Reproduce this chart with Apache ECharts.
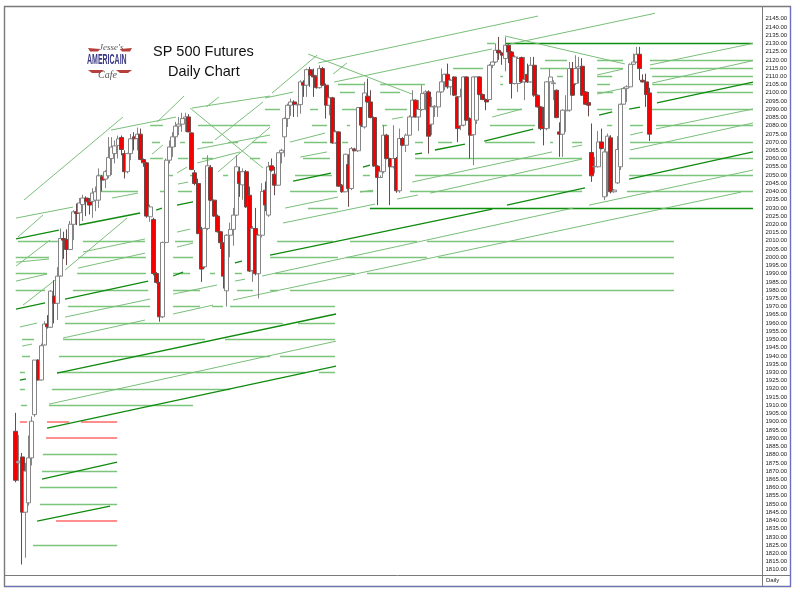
<!DOCTYPE html>
<html><head><meta charset="utf-8">
<style>html,body{margin:0;padding:0;background:#fff}#c{width:800px;height:593px}</style>
<script src="https://cdn.jsdelivr.net/npm/echarts@6/dist/echarts.min.js"></script>
</head><body><div id="c"></div>
<script>
var titleLines = ['SP 500 Futures', 'Daily Chart'];
var periodLabel = 'Daily';
var priceMin = 1805, priceMax = 2150, priceStep = 5;
var slotCount = 234;

// open, close, low, high
var sessions = [
[1894.2,1864.4,1863.2,1905.4],[1875,1876,1864,1892],[1878.6,1845,1813.2,1881],[1845,1870,1817.3,1875],[1850.7,1878,1849,1891.6],
[1878,1900.3,1873.4,1903.3],[1904.3,1937.5,1903,1937.5],[1937.5,1925.4,1925,1938],[1925.4,1946.2,1925,1947.5],[1946.6,1959.4,1947,1961],
[1959.4,1957.7,1956.7,1964.8],[1957.4,1979.4,1957.7,1980],[1976.4,1972,1959.8,1986],[1972,1988.5,1961.8,1994],[1988.5,2011.4,1989,2017.5],
[2011.4,2010.4,1999,2015.5],[2010.8,2004.7,1995.2,2017],[2004.7,2020.1,2004.3,2022],[2020,2027.6,2010.4,2028.6],[2027.6,2026.6,2019.5,2032.7],
[2027,2033,2020,2036],[2032,2036,2022,2038],[2036,2033.7,2025,2037],[2033.7,2031.7,2026,2036],[2034,2039,2024,2042],
[2034.7,2039.8,2028,2043],[2034.7,2049.5,2030,2054],[2048.9,2046.9,2040,2050],[2047.5,2052,2042,2053],[2049.5,2060.6,2048,2073],
[2060,2067,2050,2073],[2063,2067.7,2057,2071],[2068,2072,2060,2074],[2072.8,2065.5,2062,2074],[2063,2052,2047.9,2065],
[2052,2063,2051,2063.5],[2063,2072,2059,2075],[2073.2,2072,2065,2076],[2072.2,2074.8,2065,2078.8],[2074.8,2059.4,2059,2078.2],
[2059.4,2057.4,2055,2060],[2057.4,2025,2024,2058],[2024.6,2030.6,2021.5,2032],[2023,1990.1,1989,2024],[1990.1,1984.7,1984,1991],
[1984.7,1963.8,1960.8,1985],[1963.8,2009,1963,2009.5],[2009,2059,2008.5,2060],[2059,2067,2057,2071],[2067,2073.2,2061,2076],
[2073.2,2079.7,2067,2082.3],[2079.7,2080.9,2074.2,2085.3],[2080.9,2084.3,2076.2,2087.8],[2084.3,2085.3,2076.2,2087.8],[2085.3,2076.2,2076,2087],
[2075.6,2053.3,2053,2076],[2051.3,2044.8,2043.8,2053],[2044.8,2014.4,2014,2047.8],[2016.9,1992.8,1985,2018.5],[1994.2,2017.5,1993.2,2018],
[2017.5,2055.6,2016.5,2062],[2054.6,2034.7,2034,2056],[2034.7,2025,2024.5,2035],[2025,2015.5,2015,2026],[2015.5,2008.8,2005,2016],
[2008.8,1988.5,1981,2009],[1979.6,2013.4,1970,2014],[2013.4,2016.9,2000,2021],[2016.9,2025.6,2007,2030],[2025.6,2055,2025,2062],
[2052,2044.8,2036.7,2055],[2044,2052,2035,2054],[2052,2030.6,2030,2053],[2037.7,1991.6,1991,2043],[1992,2017.5,1985,2019],
[2017.5,1990,1989,2030],[1990,2013.4,1975,2014],[2013.4,2040,2012,2045],[2040.8,2031.7,2028,2046],[2025.6,2055,2024.5,2058],
[2055.6,2052.9,2052,2060],[2050.5,2043.8,2037.7,2055],[2043.8,2063.5,2043.5,2064],[2063.5,2065,2057,2066],[2073.2,2084.3,2061,2085],
[2084.3,2092.4,2079.2,2093.4],[2092.4,2094.4,2086,2096.5],[2094.4,2092.8,2085.3,2095.4],[2092.6,2092.8,2085.3,2093.4],[2092.8,2106.6,2087.3,2107.6],
[2106.2,2104.6,2097.5,2107.6],[2104.6,2114,2097.5,2114.7],[2114,2110.6,2103.6,2115.7],[2110.6,2109.6,2097.5,2114.7],[2109.6,2103.1,2102.5,2110.6],
[2103.1,2114.7,2102.5,2116.7],[2114.7,2104.6,2104,2115.7],[2104.6,2092.4,2084.3,2105.6],[2092.4,2096.9,2086.3,2097.5],[2096.9,2069.5,2069,2097.5],
[2069.5,2076.2,2069,2077.2],[2076.2,2043.2,2043,2076.6],[2043.8,2039.8,2039.2,2044.5],[2039.8,2062.6,2039.5,2063],[2056.4,2041.8,2030.7,2062.6],
[2041.8,2066,2040.8,2067],[2065.7,2064.7,2064.5,2066.5],[2064.7,2091,2064,2091.4],[2091,2080.3,2079.2,2091.4],[2079.2,2099.9,2078.2,2106.6],
[2097.9,2094.4,2094,2108.6],[2094.4,2084.9,2084.5,2101.5],[2084.9,2055.4,2055,2085.5],[2055.4,2048.5,2031.7,2056],[2048.5,2052,2049.8,2052.6],
[2052,2074.2,2051,2080.3],[2074.2,2060,2059.5,2075],[2060,2055,2031.7,2060.5],[2055,2060,2054,2080.3],[2060,2040.4,2039.2,2061],
[2040.4,2072.2,2039.2,2078.2],[2072.2,2068.1,2067.5,2073],[2068.1,2074.2,2064,2075.2],[2074.2,2085.3,2074,2086.3],[2085.3,2095.5,2085,2101.5],
[2095.5,2085.3,2084.9,2096],[2085.3,2089.8,2076.8,2095.5],[2089.8,2099.5,2089,2104.6],[2099.5,2100.5,2089.4,2101.5],[2100.5,2073.6,2063,2101.5],
[2080.9,2091.4,2074.2,2097.5],[2091.4,2091.8,2085.3,2092.5],[2091.4,2100.5,2085.3,2101],[2100.5,2106.6,2100,2114.7],[2106.6,2111.2,2101.5,2111.6],
[2111.2,2103.6,2102.5,2117.7],[2103.6,2107.6,2098.5,2108.6],[2109.6,2098.5,2098,2110],[2097.5,2078.2,2070,2098],[2080,2097.5,2077.2,2102.5],
[2080.3,2109.6,2079.5,2110],[2109.6,2083.3,2083,2110],[2084.3,2074.2,2060,2085],[2074.5,2109.6,2056,2110],[2083.3,2109.6,2081,2110],
[2109.6,2098.9,2098.5,2110],[2098.9,2095.9,2095.5,2099.5],[2095.9,2094.4,2089.4,2096.5],[2095.9,2116.7,2095.5,2117.5],[2116.7,2118.7,2115,2119],
[2118.7,2125.8,2118,2129.9],[2125.8,2124.2,2120,2133.9],[2124.2,2122.8,2117,2125],[2120.8,2128.9,2113,2133.9],[2128.9,2124.8,2118,2129.5],
[2124.8,2105.6,2096.5,2125.4],[2105.6,2121.8,2105,2122.8],[2105.6,2120.8,2100.5,2122],[2121.4,2106.6,2106,2122],[2106.6,2108,2095.5,2121.8],
[2111.2,2106.6,2106,2117.7],[2106.6,2116.7,2106,2121.8],[2116.7,2098.5,2097.5,2121.8],[2098.5,2091.4,2091,2099],[2091.4,2078.2,2077.2,2092],
[2079.7,2078.2,2068,2091.4],[2078.2,2106.6,2077.2,2107],[2106.6,2109.6,2078.2,2114.7],[2105.5,2106,2095.5,2107.6],[2101.5,2084.9,2084.5,2102],
[2076.2,2074.8,2061,2082],[2074.8,2089.4,2061,2090],[2089,2089.4,2076.2,2098.5],[2089.4,2114.7,2088.4,2118.7],[2114.7,2098.5,2098,2118.7],
[2105.6,2114.7,2104.6,2122.8],[2114.7,2115.7,2105.6,2121.8],[2116.1,2098.5,2098,2121],[2100.5,2093,2092.5,2101],[2094,2092.4,2085.7,2100.5],
[2063.7,2049.5,2045.8,2081.3],[2055,2055.2,2051,2061],[2055,2070.1,2054.5,2076.8],[2070.1,2066.1,2065.5,2078.2],[2036.7,2064,2034.7,2066],
[2064,2073.6,2037,2075.2],[2072.6,2039.8,2038.8,2074.2],[2039.8,2040.8,2039.2,2041.5],[2045.2,2065.5,2044.5,2073.6],[2055,2093,2053,2093.5],
[2093,2102.5,2093.3,2103.5],[2102.5,2103.6,2094.4,2104.6],[2103.6,2117.3,2103.2,2117.8],[2117.3,2118.7,2116.8,2123.8],[2118.7,2123.4,2118.2,2127.9],
[2123.4,2114.7,2107.6,2127.9],[2107.6,2106.6,2106.2,2111.2],[2106.6,2098.9,2091.4,2111.6],[2099.9,2074.8,2070.7,2103]
];

// price level, then start and end of each stretch, counted in sessions
var lightLevels = [
[2130,147.3,149.8],
[2120,165.4,172.3,181.7,189.8,198.2,230.4],
[2115,136.7,146,163.9,172.3,181.7,189.8,198.2,230.4],
[2110,151.4,152.3,169.2,171,181.7,186.4,198.9,230.4],
[2105,100.7,109.2,113.9,127.9,151.4,152.3,181.7,185.7,198.9,230.4],
[2100,101.3,106,113.9,120.1,181.7,186.7,200.4,230.4],
[2090,77.9,82.6,92,94.5,102,106.7,115.4,122.3,150.4,158.2,181.7,186.4,197.6,230.4],
[2080,42,46,57,79.5,92.6,97.3,103.5,104.5,114.5,116,148.2,162.3,184.8,186.4,192,196,200.1,230.4],
[2070,42.6,45.1,51.4,52.9,58.2,61.7,66.4,69.5,73.9,78.5,90.1,97.3,102,103.9,124.8,127.3,132,136.4,146.7,162.3,167,167.9,173.9,177,192,230.4],
[2060,42,46,50.7,53.9,58.2,61.7,73.2,76.4,89.8,98.2,124.8,177,191.7,230.4],
[2050,25.4,27.6,47.6,49.2,54.5,56,64.8,66.4,87.3,98.8,108.5,110.7,124.8,177,191.7,230.4],
[2040,25.1,38.2,45.1,46.7,50.7,55.1,85.7,100.4,107.6,111.7,123.2,177,191,230.4],
[2030,91.3,100.7],
[2010,0.7,13.2,21,40.4,49.8,55.4,81.7,99.2,104.5,125.4,128.5,205.7],
[2000,0,10.4,19.5,40.7,49.2,55.4,79.5,100.7,103.2,128.5,132,205.7],
[1990,0,9.8,19.2,40.7,49.2,54.5,60.7,62.3,68.5,70.7,81,106,109.8,205.7],
[1980,0,9.2,17.9,41.4,49.2,57.6,69.2,74.2,79.5,82,85.7,205.7],
[1970,16.3,42,49.2,57.6,61.4,64.8,67,99.8],
[1960,15.4,83.5,88.2,99.8],
[1950,2,5.7,14.8,59.2,65.4,99.8],
[1940,2,4.5,13.5,79.5,82.6,99.8],
[1930,1.3,2.9,12.9,90.4,94.8,99.8],
[1920,1.3,2.9,11.3,67],
[1910,1.7,3.5,10.4,55.4],
[1880,8.5,31.7],[1870,8.2,31.7],[1860,7.6,31.7],[1850,7.6,31.7],[1825,5.4,31.7]
];
var strongLevels = [[2130,153,230.4],[2030,110.7,230.4]];
var redLevels = [[1900,1.3,3.5,9.8,16.7,20.4,31.7],[1890,9.5,31.7],[1840,12.6,31.7]];

// start session, start price, end session, end price
var thinTrends = [
[154.5,2129.6,199.8,2148.3],[94.5,2118.1,163.2,2146.6],[99.5,2106.5,148.8,2126.6],[91.4,2123.5,123.8,2099.2],[80.1,2099.8,94.2,2122.9],
[99.2,2111.4,103.5,2118.1],[77.9,2096.8,86.7,2100.4],[152.9,2134.5,190.4,2117.5],[198.2,2116.9,230.4,2130],[198.9,2105.9,230.4,2119.5],
[200.1,2078,230.4,2090.1],[192,2065.2,230.4,2081.6],[179.2,2031.7,230.4,2053],[49.2,1965.5,61.7,1970.9],[67.9,1974,226.7,2039.6],
[49.2,1977.6,62.9,1983.1],[77,1988.6,174.2,2029.9],[83.5,2020.8,112.3,2032.3],[84.2,2029.9,100.7,2036.6],[123.9,2045.7,167.6,2064],
[119.2,2035.4,125.7,2037.8],[129.5,2039,177,2059.7],[181.7,2099.2,190.4,2102.9],[181.7,2110.8,189.8,2114.4],[117.6,2084,121,2085.2],
[107.6,2039.6,111.7,2040.8],[148.9,2085.2,158.2,2090.1],[85.7,2070,96.7,2075.5],[88.9,2060.9,97.3,2064],[173.9,2067,177,2068.2],
[192,2074.3,196,2076.1],[2.6,2034.8,33.5,2085.2],[29.8,2077.3,50.1,2085.2],[44.2,2082.2,52.6,2098],[59.5,2091.3,63.5,2097.4],
[55.1,2090.7,79.5,2098],[54.5,2090.7,77.3,2054.2],[62.3,2071.3,77.3,2094.4],[63.2,2051.8,79.5,2079.1],[56.7,2065.8,79.5,2074.3],
[56.7,2057.3,70.1,2064],[42.6,2062.7,46,2068.2],[50.7,2044.5,53.9,2045.7],[50.4,2051.2,53.5,2054.8],[30.1,2036,38.2,2039],
[0.1,2023.8,17.9,2030.5],[0.7,2012.3,8.5,2025.6],[0.1,1994.6,10.7,2010.4],[2.3,1970.9,12.3,1986.1],[15.4,1992.2,34.8,2023.8],
[21,2003.2,40.4,2011.1],[19.5,1993.4,40.4,2002.5],[0.1,1997,10.4,1998.9],[0.1,1985.5,9.8,1989.8],[15.4,1963.6,42,1974.6],
[14.8,1950.9,40.4,1961.8],[1.3,1957.6,6.7,1960],[2,1946,5.1,1947.2],[10.4,1910.7,100.1,1949],[50.4,2015.3,54.5,2017.1],
[50.4,2006.2,55.4,2008.6],[68.5,1985.5,71.7,1986.7]
];
var boldTrends = [
[0.1,1968.5,9.2,1972.2],[15.4,1974.6,41.4,1985.5],[49.2,1988.6,52.3,1991],[68.5,1996.5,70.7,1997.7],[79.5,2001.3,148.9,2029.3],
[153.5,2031.7,177.9,2042.1],[191.7,2047.5,230.4,2064],[0.1,2011.1,13.5,2016.5],[19.8,2019.6,38.9,2026.9],[43.9,2028.7,45.7,2029.9],
[50.4,2031.7,55.4,2033.6],[86.7,2046.3,98.5,2051.2],[108.5,2054.8,110.7,2056],[124.8,2062.7,127,2063.3],[131,2065.2,140.4,2068.8],
[146.4,2070.6,161.7,2077.9],[182.3,2086.4,186.4,2088.3],[191.7,2090.1,195.1,2091.3],[200.4,2093.8,230.4,2106.5],[12.9,1929.6,100.1,1965.5],
[9.8,1896.1,100.1,1933.8],[8.2,1865.1,31.7,1875.5],[6.7,1839.6,29.5,1848.7],[1.3,1925.3,3.2,1926]
];

function levelSegs(rows){
  var out=[];
  rows.forEach(function(r){ for(var k=1;k<r.length;k+=2) out.push({coords:[[r[k],r[0]],[r[k+1],r[0]]]}); });
  return out;
}
function trendSegs(rows){
  return rows.map(function(r){ return {coords:[[r[0],r[1]],[r[2],r[3]]]}; });
}
function linesSeries(name,data,color,width,z){
  return {name:name,type:'lines',coordinateSystem:'cartesian2d',xAxisIndex:1,yAxisIndex:0,silent:true,z:z,
    polyline:false,effect:{show:false},lineStyle:{color:color,width:width,opacity:1,curveness:0},data:data};
}
var slots=[]; for(var s=0;s<=slotCount;s++) slots.push(String(s));

var logoBlue='#3b3a86', frame='#7a7a7a', edge='#6a6fc0';
var chart=echarts.init(document.getElementById('c'),null,{renderer:'canvas'});
chart.setOption({
  animation:false,
  backgroundColor:'#fff',
  title:[
    {text:titleLines[0],left:153,top:44,padding:0,textStyle:{fontFamily:'Liberation Sans',fontSize:14.5,fontWeight:'normal',color:'#111'}},
    {text:titleLines[1],left:168,top:64,padding:0,textStyle:{fontFamily:'Liberation Sans',fontSize:14.5,fontWeight:'normal',color:'#111'}}
  ],
  grid:{left:15.7,width:748.8,top:10.5,height:567.5,containLabel:false},
  xAxis:[
    {type:'category',data:slots,boundaryGap:false,axisLine:{show:false},axisTick:{show:false},axisLabel:{show:false},splitLine:{show:false}},
    {type:'value',min:0,max:slotCount,show:false,splitLine:{show:false}}
  ],
  yAxis:{type:'value',position:'right',min:priceMin,max:priceMax,interval:priceStep,
    axisLine:{show:false},axisTick:{show:false},splitLine:{show:false},
    axisLabel:{margin:1,fontSize:6,fontFamily:'Liberation Sans',color:'#222',showMinLabel:false,showMaxLabel:false,
      formatter:function(v){return v.toFixed(2);}}},
  series:[
    linesSeries('levels',levelSegs(lightLevels),'#7cc47c',1.3,1),
    linesSeries('red levels',levelSegs(redLevels),'#ff6a6a',1.5,1),
    linesSeries('strong levels',levelSegs(strongLevels),'#0f8f0f',1.3,2),
    linesSeries('trend',trendSegs(thinTrends),'#79bf79',1,2),
    linesSeries('bold trend',trendSegs(boldTrends),'#0f8a0f',1.3,3),
    {name:'SP 500',type:'candlestick',xAxisIndex:0,yAxisIndex:0,barWidth:4.4,z:5,clip:true,
     itemStyle:{color:'#ffffff',color0:'#f40000',borderColor:'#858585',borderColor0:'#6b4a4a',borderColorDoji:'#858585',borderWidth:1},
     data:sessions}
  ],
  graphic:[
    {type:'rect',silent:true,z:0,shape:{x:4.5,y:6.5,width:786,height:580},style:{fill:'none',stroke:frame,lineWidth:1.4}},
    {type:'line',silent:true,shape:{x1:4.5,y1:575.5,x2:790.5,y2:575.5},style:{stroke:frame,lineWidth:1}},
    {type:'line',silent:true,shape:{x1:762.5,y1:6.5,x2:762.5,y2:586.5},style:{stroke:frame,lineWidth:1}},
    {type:'line',silent:true,shape:{x1:4.5,y1:586.5,x2:790.5,y2:586.5},style:{stroke:edge,lineWidth:1}},
    {type:'line',silent:true,shape:{x1:790.5,y1:6.5,x2:790.5,y2:586.5},style:{stroke:edge,lineWidth:1}},
    {type:'text',silent:true,style:{x:766,y:577,text:periodLabel,fontSize:6,fontFamily:'Liberation Sans',fill:'#222'}},
    {type:'text',silent:true,style:{x:99,y:43,text:"Jesse's",fontSize:9,fontStyle:'italic',fontFamily:'Liberation Serif',fill:'#555'}},
    {type:'text',silent:true,x:87,y:53,scaleX:0.5,scaleY:1,style:{x:0,y:0,text:'AMERICAIN',fontSize:14,fontWeight:'bold',fontFamily:'Liberation Sans',fill:logoBlue}},
    {type:'text',silent:true,style:{x:98,y:70,text:'Cafe',fontSize:10,fontStyle:'italic',fontFamily:'Liberation Serif',fill:'#555'}},
    {type:'polygon',silent:true,shape:{points:[[88,48],[100,49],[98,51.5],[90,51.5]]},style:{fill:'#b5403c'}},
    {type:'polygon',silent:true,shape:{points:[[132,48],[120,49],[122,51.5],[130,51.5]]},style:{fill:'#b5403c'}},
    {type:'polygon',silent:true,shape:{points:[[88,70],[104,70],[100,73],[92,73]]},style:{fill:'#b5403c'}},
    {type:'polygon',silent:true,shape:{points:[[132,70],[116,70],[120,73],[128,73]]},style:{fill:'#b5403c'}}
  ]
});
</script></body></html>
